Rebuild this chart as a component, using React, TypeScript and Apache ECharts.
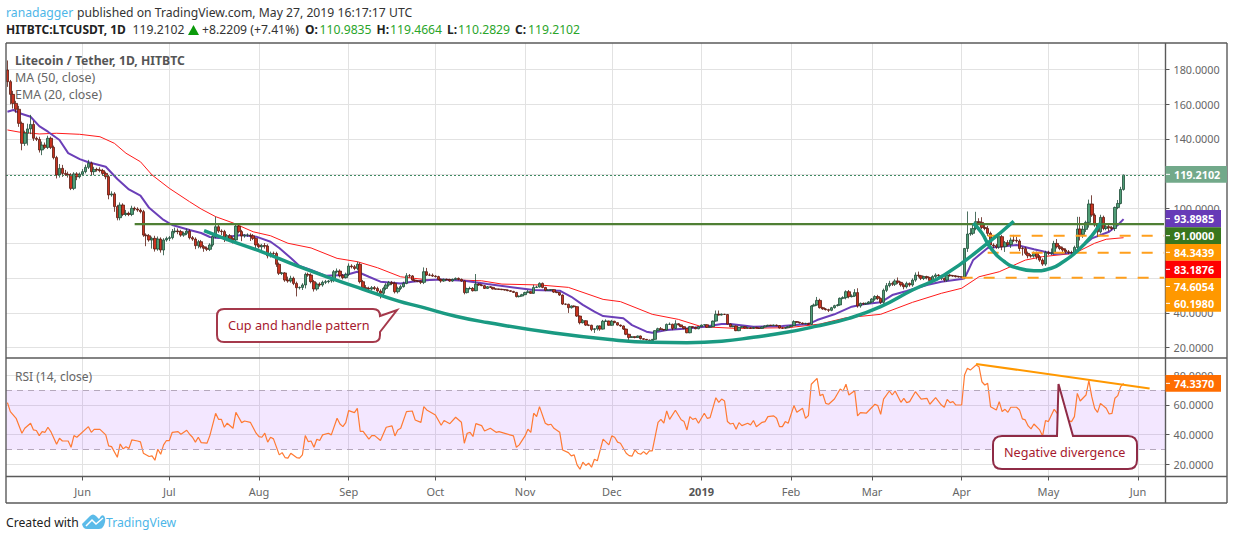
import React, { useEffect, useRef } from "react";
import * as echarts from "echarts";

const START_DAY = Date.UTC(2018, 4, 6);
const TOTAL_SLOTS = 401;
const MONTH_NAMES = ["Jan", "Feb", "Mar", "Apr", "May", "Jun", "Jul", "Aug", "Sep", "Oct", "Nov", "Dec"];
const categories: string[] = Array.from({ length: TOTAL_SLOTS }, (_, i) =>
  new Date(START_DAY + i * 86400000).toISOString().slice(0, 10)
);

const firstOpen = 179.7;
const closes = [
  173.0,165.7,160.5,157.1,149.0,137.5,143.3,145.8,148.4,140.4,
  139.8,133.7,136.5,135.2,140.4,135.2,129.3,119.3,123.1,120.2,
  119.7,119.3,111.6,119.9,118.3,119.7,121.2,123.7,126.0,121.2,
  122.5,122.2,121.8,120.2,118.3,107.8,108.4,101.1,94.7,102.0,
  96.6,97.2,96.6,100.1,99.7,99.1,98.2,84.7,84.3,81.9,
  82.8,76.7,82.4,76.1,81.9,82.8,83.2,86.7,87.0,86.7,
  84.7,85.7,87.0,83.2,82.4,78.6,80.9,78.0,77.1,76.5,
  79.0,83.8,89.5,87.0,86.7,82.2,84.3,82.8,81.9,89.9,
  86.7,84.2,84.7,84.7,84.3,82.8,79.0,78.0,78.6,78.4,
  72.8,74.2,74.1,67.9,62.7,62.9,58.8,58.3,59.8,56.9,
  54.4,54.6,56.0,62.1,61.7,57.9,53.7,56.5,56.0,57.5,
  57.9,58.3,58.6,63.6,64.0,61.3,60.2,62.1,66.9,66.5,
  65.5,67.9,57.9,54.4,54.0,53.7,54.4,54.0,52.5,51.2,
  54.0,56.0,57.3,56.9,52.1,54.0,55.0,56.9,61.3,61.2,
  58.8,58.3,58.1,57.5,63.6,61.7,61.6,61.1,60.8,59.2,
  58.3,59.2,59.1,58.3,59.2,59.8,59.2,58.3,51.6,53.9,
  54.0,52.7,56.5,56.0,55.6,54.0,55.0,54.6,53.7,53.6,
  53.5,53.3,53.1,52.7,52.3,51.7,49.3,49.6,50.4,51.6,
  52.1,51.2,54.6,54.8,56.9,54.6,52.9,53.1,53.3,51.9,
  51.6,50.2,45.0,44.9,42.9,43.9,43.5,38.1,34.3,35.4,
  32.9,32.8,30.4,30.8,32.4,30.6,35.1,35.2,32.8,35.1,
  34.3,32.9,32.4,30.6,27.6,25.8,26.2,25.8,26.6,25.1,
  24.7,24.3,23.9,24.7,29.7,30.8,30.4,30.1,33.3,33.4,
  31.0,33.7,33.0,32.0,31.0,28.5,32.0,31.6,30.8,32.0,
  32.9,33.1,31.6,32.0,35.2,39.1,38.7,39.1,39.0,33.5,
  32.0,32.4,29.7,31.6,32.0,31.2,31.4,31.0,31.6,31.2,
  31.0,31.8,32.4,32.8,32.7,32.9,32.6,31.2,31.1,31.4,
  32.0,32.6,34.9,34.5,34.1,33.7,33.9,33.3,43.9,44.5,
  47.1,42.9,42.2,41.8,41.4,42.9,44.1,44.5,48.3,48.7,
  52.1,49.3,49.6,51.6,43.9,45.4,45.0,45.4,46.2,47.9,
  49.3,48.3,46.0,52.9,55.6,56.9,56.4,58.3,57.5,56.0,
  55.0,56.9,56.0,58.8,61.7,61.3,59.8,60.8,60.2,58.5,
  60.8,61.7,61.3,59.8,58.8,61.7,61.3,61.2,60.8,60.7,
  60.4,77.0,85.3,85.7,88.5,92.4,92.0,89.1,88.5,85.7,
  79.0,78.6,77.8,83.8,78.0,80.3,79.3,81.8,81.7,81.3,
  77.0,76.9,74.2,72.8,72.7,74.2,72.2,70.3,68.0,74.7,
  74.2,74.5,79.9,78.0,77.0,76.1,75.1,74.7,74.6,77.6,
  88.2,85.1,88.0,92.0,102.6,96.2,90.5,86.6,94.9,88.5,
  89.5,88.9,88.5,100.6,102.9,110.98,119.21,
];
const upperWicks = [
  5.5,1,2,1.5,2,1,1.5,3,5.5,2, 1,1.5,2,1.5,1.5,1,1,1,2.5,2,
  2,1.5,1,1,1,1,1.5,1.5,2,1, 1.5,1,1.5,1,1,1,1.5,1,1,1.5,
  1,2,1,1.5,1,1,1,1,1,1, 1,1.5,1.5,1,1,1,1,1.5,2,1.5,
  1,1,1.5,1,1,1,1,1,1,1, 1,1,5.8,1,1,1,1,1,1,1,
  1,1,.5,1,1,1,.5,1,1,1.5, 1,1,1,1,1,.5,.5,2,1.5,1,
  1,.5,1,1,1,1,1,1,1,1, 1,.5,1,1,1.5,1,1,1,1.5,1,
  1,1.5,1,1,1.5,1,1,1,1,1, 1,1,1,1,1,1,1,1,1.5,1,
  .5,.5,.5,.5,2.5,2.2,1,1,.5,.5, .5,.5,.5,.5,.5,.5,.5,.5,.3,.5,
  1,.8,5.8,.5,.5,.4,.4,.4,.3,.3, .3,.3,.3,.3,.3,.3,.3,.3,.5,.5,
  1,.5,1.5,.8,.6,.5,.3,.3,.3,.3, .3,.3,.3,.3,.3,.3,.3,.3,.3,1,
  .3,.3,.3,.3,.3,.3,.8,1,.3,.8, .3,.3,.3,.3,.3,.3,.3,.3,.3,.3,
  .3,.2,.2,.2,.2,.6,1,.2,.5,1, .3,2,.3,.3,.3,.3,.4,.3,.3,.3,
  .3,.3,.3,.3,.3,2.2,2.2,.5,.3,.3, .3,.3,.3,.3,.3,.3,.3,.3,.3,.3,
  .3,.3,.3,.3,.3,.3,.3,.3,.3,.3, .3,.3,.8,.3,.3,.3,.3,.3,.5,.8,
  2,1,.5,.5,.5,.5,.5,.5,.5,.8, .8,1,1,2,2.5,.5,.5,.5,.5,.5,
  .8,1,.5,1,1.5,1.5,1,1,2,.5, 1,1,.5,1,1.5,2,.5,.5,.5,.5,
  .8,1,.5,.5,.5,1,.5,.5,.5,.5, .3,.3,13,3,3,5.7,2,3,1.5,1.5,
  1,1,1,1,1,1,1.5,1.5,3,2, 1,1,1,1,1,1,1,1,1,1,
  1,2.5,1.5,2.5,1,1,1,1,1,1, 7,7,2,1,2.5,5,1,.5,1.5,1,
  1,1,1,.5,2,1.5,.26,
];
const lowerWicks = [
  3,5.7,3,2,2,4,1.5,7,3,1.5, 1,1.5,3,1,1,1,1,2,1.5,2,
  1,1.5,1,1,2,1,1,1,1,2, 2,1,1,1,1.5,2.5,1,3,1.5,1.5,
  1,1,1,1,1,1,1,1,6,1, 5,1.5,1,1.5,3,1,1.5,1,1,1.5,
  1,1,1,1,1,2,1.5,1,2,1, 1,1,1,1,2,1.5,1,1,2,1.5,
  1,3,1,1,3,1,3,1,3,1.5, 1.5,1,1,1.5,1,1,1,1,1,1,
  5,1,1.5,2,1,1,1.5,1,1,1, 1,1,1,1,1,1,1,.5,1,1,
  1,1,1,1,.5,1,1,1,1,3, 1,1,1,1,1,1,1,.5,.5,1,
  .5,.5,.5,1,1,.5,.5,.5,.5,.5, 1,.5,.5,.5,.5,.3,.5,.5,1,.5,
  .5,.5,.3,.5,.3,.3,.3,.3,.3,.3, .3,.3,.3,.3,.3,.3,.5,.5,.3,.3,
  .3,.3,.3,.3,.3,.5,.5,.3,.5,.5, .3,.5,.5,.5,3,.5,.5,.5,1,.5,
  .5,.5,1,2,1,1,.3,.3,.3,.3, .3,.3,.5,.5,.5,1.5,.3,.5,.3,.5,
  .3,.3,.3,.3,.3,.3,.3,.3,.3,.3, 1,.3,.3,.3,.5,.3,.3,.3,.3,.3,
  .3,.3,.3,.3,.3,.3,.3,.3,.3,.3, .3,.3,.3,.3,.3,.3,.3,.3,.3,.3,
  .3,.3,.3,.3,.3,.3,.3,.3,.3,.3, .3,.3,.3,.3,.3,.3,.3,.3,.3,.3,
  .5,.5,.5,.5,1,.5,.5,.5,.5,.5, 1,1,.5,.5,1,1,.5,.5,.5,.5,
  1,1,1,1,1,1,1,1,1,1, 1.5,1,1,1,1,1,1,1,1,1.5,
  1,1,1,1,1,1,.5,.5,.5,.5, .5,1,2,1,1,1,1,1,1,1.5,
  3,1.5,1,1,2,3,1,2,1,1, 1.5,4,1,1.5,1,1,1.5,1,1,1,
  1,1,1,1,1,2,1,1,1,1, 1,3.5,2,1.5,3,1,1,3,1,1,
  1,2,1,1.5,1,.5,.7,
];

const maDays = [0,2,4,8,11,14,18,21,25,28,34,38,42,46,49,54,57,63,67,70,73,81,86,91,94,98,101,105,110,117,121,125,129,136,140,146,150,158,166,175,182,191,195,199,203,206,213,216,221,223,228,235,241,247,250,258,268,277,280,286,292,296,302,306,311,318,323,330,331,334,339,343,349,355,362,369,375,381,384,386];
const maValues = [155.7,156.7,155,152.8,147.4,144.2,139.4,131.9,128.4,126.6,124,117,111,107.4,100.4,93.4,90.5,87.6,85.9,83.6,83,84.7,83.8,80.9,77.3,71.5,66.9,64.6,61.3,61.7,63.6,60.7,57.9,56.9,57.9,58.8,59.2,58.4,56.5,54.6,53.1,52.7,49.2,44.5,40.6,38.1,36.8,32.9,29.1,28.5,30.1,31,32,33.5,33.5,32,32.4,33.5,35.8,39.1,43.5,44.9,46,50.2,52.5,56,57.9,59.4,59.8,70.4,77.3,78,79,76.5,73.8,74.6,82.8,86.6,90.5,93.9];

const emaDays = [0,4,11,17,25,32,37,41,46,50,56,63,67,72,78,85,91,97,105,114,121,128,136,146,149,164,171,184,194,206,212,223,232,240,252,270,281,290,302,313,323,330,336,343,352,358,369,376,380,386];
const emaValues = [145.2,144,142.9,143.3,142.7,141.3,137.5,131.8,126.9,119.3,111.6,103.9,99.7,95.3,91.7,86.6,84.3,80,77.3,71.3,69.4,65.9,60.7,58.8,59.2,58.4,56.5,56,54.6,47.7,46.4,39.1,36.2,32,31,31.4,33.5,37.1,39.1,46,51.2,54.1,60.7,63.6,70.3,72.3,74.2,80,82.3,83.19];

const rsiDays = [0,1,3,5,6,8,9,10,11,12,13,14,15,17,18,19,21,22,23,24,28,29,30,32,34,35,36,38,39,40,41,42,43,45,46,47,49,50,51,52,53,54,55,56,57,59,60,62,63,64,65,66,67,69,70,72,73,74,75,76,78,79,81,82,84,86,87,88,89,90,91,92,94,95,96,97,98,100,101,102,103,104,105,106,107,108,109,111,112,114,115,116,117,118,120,121,122,123,125,126,127,129,131,133,134,135,136,138,140,141,143,144,145,148,150,151,153,155,157,158,159,160,161,162,164,165,167,169,170,175,176,177,179,180,181,182,183,184,186,187,188,189,191,192,194,195,196,197,198,199,200,201,202,203,204,206,208,209,210,211,212,214,215,216,217,218,219,220,221,222,223,225,226,227,228,229,231,233,234,235,236,237,238,239,241,242,243,245,246,247,248,249,250,251,252,253,254,256,257,258,259,261,262,263,265,266,267,268,269,270,272,273,275,276,277,278,280,281,282,283,284,286,288,289,290,291,293,294,295,297,300,301,302,303,305,306,307,309,310,311,312,314,316,318,319,321,323,324,325,326,327,328,330,331,332,333,335,336,337,338,339,340,342,343,344,345,346,347,349,350,351,352,353,354,355,357,358,359,360,362,363,364,366,368,369,370,371,373,374,375,376,377,378,380,381,382,383,384,385,386];
const rsiValues = [61.5,55.5,51,41,44.3,47.7,43.2,42.8,39.4,42.1,41.6,45,42.1,33.6,37.6,35.8,35.8,31.6,39.4,38.3,45.4,41.6,43.6,43.6,39.9,32.5,32,24.9,33.8,30.5,32,30.7,36.5,35.8,35.2,27.6,25.4,25.8,22.9,30.3,26.9,33.2,36.1,36.1,41.6,42.1,40.3,43,40.3,38.3,35,38.3,34.7,34.3,39.4,54.3,50.3,50.3,45,47.7,44.3,55,48.1,49.2,48.3,41,38.7,38.3,41,35,38.3,37.2,26.5,28,24.7,24.3,27.6,24.7,24.3,26.5,39.4,35.4,35.8,31.6,37,36.1,39.9,41,39.9,51,47.2,45.4,48.1,56.1,54.8,57.7,42.3,42.3,37,39.4,39.4,36.1,45,45.9,39.2,43.2,44.3,55.5,55.9,49.9,48.3,58.8,56.6,53.2,46.3,49.5,47.4,51.7,48.3,34.3,41,41.6,38.8,47.4,46.1,42.5,44.3,41.6,42.1,39.2,31.6,33.2,39.2,43.7,41.6,54.4,52.1,58.8,47.7,46.6,47,44.3,41.6,29.8,28,25.8,26.5,19.8,16.9,21.6,19.4,20.9,18.2,23.6,22.5,37,33.2,39.2,38.3,35,34.3,27.6,26,25.6,29.8,27.6,26.9,28.7,26.9,29.2,29.2,48.3,50.3,47.7,55.9,50.3,56.4,50,48.8,43.2,52.1,50.3,51,47.7,54.4,51,51.5,64.8,61.7,63.9,62.6,48.8,47.2,47.7,43.7,48.1,46.1,47.7,46.6,49.5,45.4,48.3,48.8,52.1,52.6,51,45.4,45.4,48.8,47.7,59.5,55,57.7,51,52.8,73.8,77.8,66.2,67.1,61,60.4,63.9,70.6,69.3,73.8,66.6,69.5,52.6,54.8,54.4,60.4,59.5,53.7,63.9,69.3,66.6,69.3,61.7,64.4,61.5,62.2,68.8,63.9,64.4,60.4,64.8,59.9,58.4,63.7,61.5,62.2,59.9,59.9,80,84.5,83.3,86.7,85.6,75.5,73.3,74.4,58.8,56.6,62.2,55.5,57,55,58.4,58.4,56.6,50.6,49.9,45.9,43.9,47.2,43.2,39.2,49.5,48.8,57,54.4,51.5,49.9,48.8,52.1,67.7,62.6,66.6,76.2,65.5,57.7,55,61,57.7,53.9,54.3,64.4,66.2,72.2,74.34];

const cupDays = [68,77,88,100,112,123,135,143,155,166,189,210,223,235,247,258,270,279,291,302,313,324,339,348];
const cupValues = [87.2,81.5,75.1,67.1,59.8,53.5,46.8,43.4,38,34.4,28.3,24.3,23,22.8,23.6,25.9,28.9,32,36.8,43.5,53.1,61.7,80.1,92.7];
const handleDays = [334,337,340,345,349,355,361,365,370,375,378];
const handleValues = [91.6,85.9,77.3,69.2,65.9,64.2,65.6,69.2,75.5,84.3,91.6];
const priceTicks = [20, 40, 60, 80, 100, 120, 140, 160, 180];
const visiblePriceLabels = [20, 40, 100, 140, 160, 180];
const rsiTicks = [20, 40, 60, 80];
const lastPrice = 119.2102;
const resistance = 91;
const supportLevels = [
  { value: 84.3439, from: 339 },
  { value: 74.6054, from: 339 },
  { value: 60.198, from: 330 },
];
const priceTags = [
  { text: "119.2102", top: 166, bottom: 182.7, right: 1227, fill: "#72a98a" },
  { text: "93.8985", top: 210, bottom: 227.3, right: 1221, fill: "#673ab7" },
  { text: "91.0000", top: 227.3, bottom: 244, right: 1221, fill: "#38761d" },
  { text: "84.3439", top: 244, bottom: 260.7, right: 1221, fill: "#ff9800" },
  { text: "83.1876", top: 260.7, bottom: 278, right: 1221, fill: "#ff0000" },
  { text: "74.6054", top: 278, bottom: 295, right: 1221, fill: "#ff9800" },
  { text: "60.1980", top: 295, bottom: 311.7, right: 1221, fill: "#ff9800" },
  { text: "74.3370", top: 375, bottom: 391.7, right: 1221, fill: "#ff6d00" },
];

const FONT = '"Noto Sans", sans-serif';
const pair = (xs: number[], ys: number[]) => xs.map((x, i) => [x, ys[i]]);

const cupCallout = "M224 309 L373 309 Q380 309 380 316 L397 310 L380 332 L380 335 Q380 342 373 342 L224 342 Q217 342 217 335 L217 316 Q217 309 224 309 Z";
const divCallout = "M1002 436 L1057 436 L1058.5 384 L1073 436 L1128 436 Q1137 436 1137 445 L1137 460 Q1137 469 1128 469 L1002 469 Q993 469 993 460 L993 445 Q993 436 1002 436 Z";
const logoCloud = "M82 524 L90 516 Q93 513 96 516 L99 519 L101 516 Q104 514 105 518 Q106 522 103 527 Q102 529 99 529 L87 529 Q83 529 82 524 Z";

echarts.graphic.registerShape("cupCallout", echarts.graphic.extendPath(cupCallout as any, {}) as any);
echarts.graphic.registerShape("divCallout", echarts.graphic.extendPath(divCallout as any, {}) as any);
echarts.graphic.registerShape("logoCloud", echarts.graphic.extendPath(logoCloud as any, {}) as any);

function txt(text: string, x: number, y: number, fill: string, fontSize = 12.2, fontWeight: any = "normal", textAlign = "left") {
  return { type: "text", x, y, z: 100, silent: true, style: { text, fill, font: `${fontWeight} ${fontSize}px ${FONT}`, textAlign, textVerticalAlign: "middle" } };
}
function frameLine(x1: number, y1: number, x2: number, y2: number) {
  return { type: "line", z: 60, silent: true, shape: { x1, y1, x2, y2 }, style: { stroke: "#5a5a5a", lineWidth: 1.4 } };
}

export default function App() {
  const ref = useRef<HTMLDivElement>(null);
  useEffect(() => {
    const chart = echarts.init(ref.current!, undefined, { renderer: "svg" });
    const candles = closes.map((c, i) => {
      const o = i === 0 ? firstOpen : closes[i - 1];
      return [o, c, Math.min(o, c) - lowerWicks[i], Math.max(o, c) + upperWicks[i]];
    });
    const isFirst = (_: number, v: string) => v.endsWith("-01");
    const gridStyle = { color: "#e2e2e2", width: 1 };
    const labelFmt = (v: string) => {
      const [y, m] = v.split("-");
      if (m === "01") return "{b|" + y + "}";
      return MONTH_NAMES[Number(m) - 1];
    };
    const graphics: any[] = [
      frameLine(6, 43, 1227, 43), frameLine(6, 358, 1227, 358), frameLine(6, 476.5, 1227, 476.5), frameLine(6, 503, 1227, 503),
      frameLine(6, 43, 6, 503), frameLine(1227, 43, 1227, 503), frameLine(1165.5, 43, 1165.5, 503),
      txt("Litecoin / Tether, 1D, HITBTC", 15, 60, "#555", 12.2, "bold"),
      txt("MA (50, close)", 15, 77, "#666", 12.4),
      txt("EMA (20, close)", 15, 94, "#666", 12.4),
      txt("RSI (14, close)", 15, 376, "#666", 12),
      txt("ranadagger", 6, 12, "#4db6e8", 12.2),
      txt("published on TradingView.com, May 27, 2019 16:17:17 UTC", 77, 12, "#333", 12.2),
      txt("HITBTC:LTCUSDT, 1D", 6, 29.5, "#222", 12, "bold"),
      txt("119.2102", 132.5, 29.5, "#333", 12.2),
      { type: "polygon", z: 100, silent: true, shape: { points: [[188, 35], [199, 35], [193.5, 25]] }, style: { fill: "#0b9a0b" } },
      txt("+8.2209 (+7.41%)", 202, 29.5, "#333", 12.2),
      txt("O:", 305, 29.5, "#222", 12, "bold"),
      txt("110.9835", 319.5, 29.5, "#2aa52a", 12.2),
      txt("H:", 376.5, 29.5, "#222", 12, "bold"),
      txt("119.4664", 390, 29.5, "#2aa52a", 12.2),
      txt("L:", 447, 29.5, "#222", 12, "bold"),
      txt("110.2829", 458, 29.5, "#2aa52a", 12.2),
      txt("C:", 515, 29.5, "#222", 12, "bold"),
      txt("119.2102", 528, 29.5, "#2aa52a", 12.2),
      txt("Created with", 6, 522, "#222", 12.2),
      { type: "logoCloud", z: 100, silent: true, style: { fill: "#5bbbe9" } },
      { type: "polyline", z: 101, silent: true, shape: { points: [[86, 526], [92, 520], [96, 524], [103, 518]] }, style: { stroke: "#fff", fill: "none", lineWidth: 1.5 } },
      txt("TradingView", 106, 522, "#4db6e8", 12.2),
      { type: "cupCallout", z: 90, silent: true, style: { fill: "#fff", stroke: "#a5394b", lineWidth: 2 } },
      txt("Cup and handle pattern", 228, 325, "#a6192e", 12.7),
      { type: "divCallout", z: 90, silent: true, style: { fill: "#fff", stroke: "#8f2b46", lineWidth: 2 } },
      txt("Negative divergence", 1004, 452, "#a6192e", 12.6),
    ];
    for (const t of priceTags) {
      const mid = (t.top + t.bottom) / 2;
      graphics.push({ type: "rect", z: 70, silent: true, shape: { x: 1165.5, y: t.top, width: t.right - 1165.5, height: t.bottom - t.top }, style: { fill: t.fill } });
      graphics.push({ type: "line", z: 71, silent: true, shape: { x1: 1166, y1: mid, x2: 1170, y2: mid }, style: { stroke: "#fff", lineWidth: 1 } });
      graphics.push(txt(t.text, 1174, mid, "#fff", 10.8, "bold"));
    }
    chart.setOption({
      animation: false,
      backgroundColor: "#fff",
      grid: [
        { left: 6, top: 43, width: 1159.5, height: 315 },
        { left: 6, top: 358, width: 1159.5, height: 118.5 },
      ],
      xAxis: [
        {
          type: "category", gridIndex: 0, data: categories, boundaryGap: true,
          axisLine: { show: false }, axisTick: { show: false, interval: isFirst, alignWithLabel: true },
          axisLabel: { show: false },
          splitLine: { show: true, interval: isFirst, alignWithLabel: true, lineStyle: gridStyle } as any,
        },
        {
          type: "category", gridIndex: 1, data: categories, boundaryGap: true,
          axisLine: { show: false },
          axisTick: { show: true, interval: isFirst, alignWithLabel: true, length: 4, lineStyle: { color: "#555" } },
          axisLabel: {
            show: true, interval: isFirst, formatter: labelFmt, color: "#666", fontSize: 11, fontFamily: FONT, margin: 9,
            rich: { b: { fontWeight: "bold", color: "#555", fontSize: 11, fontFamily: FONT } },
          },
          splitLine: { show: true, interval: isFirst, alignWithLabel: true, lineStyle: gridStyle } as any,
        },
      ],
      yAxis: [
        {
          type: "value", gridIndex: 0, position: "right", min: 13.96, max: 195.25, scale: true,
          axisLine: { show: false },
          axisTick: { show: true, length: 4, customValues: priceTicks, lineStyle: { color: "#555" } },
          axisLabel: { show: true, customValues: visiblePriceLabels, formatter: (v: number) => v.toFixed(4), color: "#666", fontSize: 10.8, fontFamily: FONT, margin: 8 },
          splitLine: { show: true, lineStyle: gridStyle },
        },
        {
          type: "value", gridIndex: 1, position: "right", min: 12, max: 91.4, scale: true,
          axisLine: { show: false },
          axisTick: { show: true, length: 4, customValues: rsiTicks, lineStyle: { color: "#555" } },
          axisLabel: { show: true, customValues: rsiTicks, formatter: (v: number) => v.toFixed(4), color: "#666", fontSize: 10.8, fontFamily: FONT, margin: 8 },
          splitLine: { show: true, lineStyle: gridStyle },
        },
      ],
      series: [
        {
          type: "line", name: "EMA", data: pair(emaDays, emaValues), showSymbol: false, silent: true, z: 3,
          lineStyle: { color: "#ff1a1a", width: 1 },
          markLine: {
            silent: true, symbol: "none", label: { show: false },
            lineStyle: { color: "#3f8a62", type: [2, 2] as any, width: 1 },
            data: [{ yAxis: lastPrice }],
          },
        },
        { type: "line", name: "MA", data: pair(maDays, maValues), showSymbol: false, silent: true, z: 3, lineStyle: { color: "#6b3fb8", width: 2 } },
        {
          type: "candlestick", name: "LTCUSDT", data: candles, barWidth: 3, silent: true, z: 4,
          itemStyle: { color: "#4f9d76", color0: "#c8331f", borderColor: "#1f4d38", borderColor0: "#5a1a10", borderWidth: 0.8 },
        },
        { type: "line", name: "Resistance", data: [[44, resistance], [400, resistance]], showSymbol: false, silent: true, z: 5, lineStyle: { color: "#4f7f34", width: 2.4 } },
        ...supportLevels.map((s) => ({
          type: "line", name: "Support", data: [[s.from, s.value], [400, s.value]], showSymbol: false, silent: true, z: 5,
          lineStyle: { color: "#ff9f1c", width: 2, type: [11, 11] as any },
        })),
        { type: "line", name: "Cup", data: pair(cupDays, cupValues), smooth: true, showSymbol: false, silent: true, z: 6, lineStyle: { color: "#1a9a82", width: 3.5 } },
        { type: "line", name: "Handle", data: pair(handleDays, handleValues), smooth: true, showSymbol: false, silent: true, z: 6, lineStyle: { color: "#1a9a82", width: 3.5 } },
        {
          type: "line", name: "RSI", xAxisIndex: 1, yAxisIndex: 1, data: pair(rsiDays, rsiValues), showSymbol: false, silent: true, z: 4,
          lineStyle: { color: "#ff7a33", width: 1.2 },
          markArea: { silent: true, itemStyle: { color: "rgba(149,39,255,0.11)" }, data: [[{ yAxis: 70 }, { yAxis: 30 }]] },
          markLine: {
            silent: true, symbol: "none", label: { show: false },
            lineStyle: { color: "#b5a8bc", type: [6, 5] as any, width: 1 },
            data: [{ yAxis: 70 }, { yAxis: 30 }],
          },
        },
        { type: "line", name: "RSI trend", xAxisIndex: 1, yAxisIndex: 1, data: [[335, 87.4], [395, 71]], showSymbol: false, silent: true, z: 6, lineStyle: { color: "#ff9800", width: 2 } },
      ],
      graphic: graphics,
    } as any);
    return () => chart.dispose();
  }, []);
  return <div ref={ref} style={{ position: "absolute", left: 0, top: 0, width: 1234, height: 540 }} />;
}
